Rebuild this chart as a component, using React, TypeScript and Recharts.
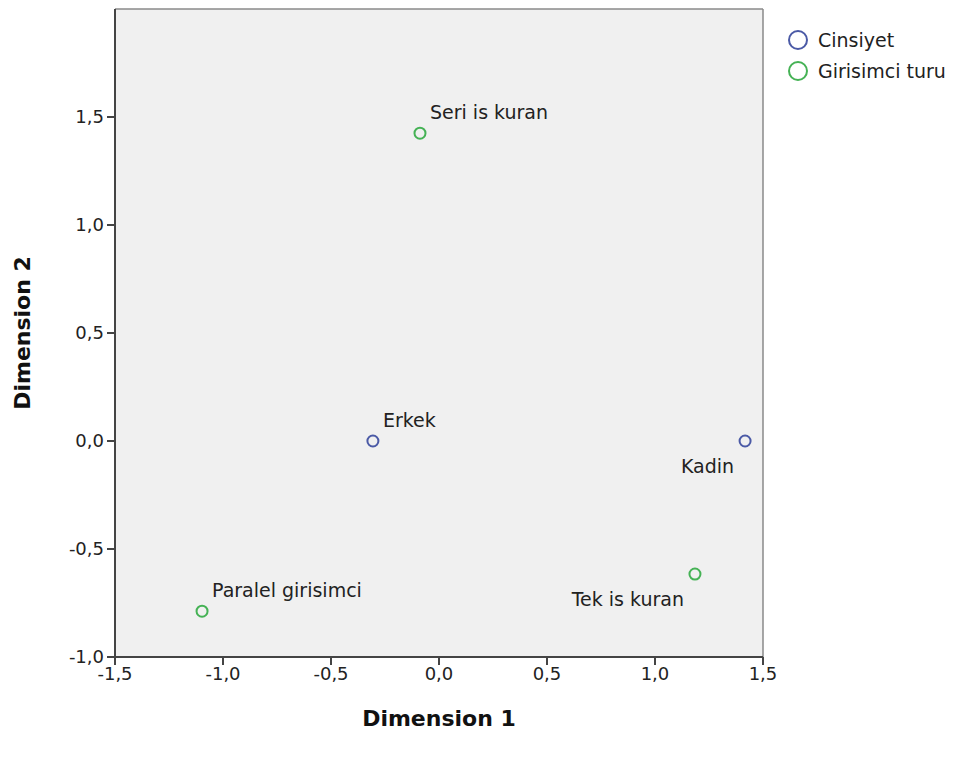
import {
  CartesianGrid,
  ReferenceLine,
  Scatter,
  ScatterChart,
  XAxis,
  YAxis,
} from "recharts";

const cinsiyetNames = ["Erkek", "Kadin"];
const cinsiyetDim1 = [-0.306, 1.417];
const cinsiyetDim2 = [0.0, 0.0];

const girisimciNames = ["Seri is kuran", "Paralel girisimci", "Tek is kuran"];
const girisimciDim1 = [-0.088, -1.097, 1.185];
const girisimciDim2 = [1.425, -0.788, -0.616];

const xTicks = [-1.5, -1.0, -0.5, 0.0, 0.5, 1.0, 1.5];
const yTicks = [-1.0, -0.5, 0.0, 0.5, 1.0, 1.5];

// which labels sit below-left of their point instead of above-right
const labelsBelow = ["Kadin", "Tek is kuran"];

const FONT = "'DejaVu Sans', Verdana, sans-serif";
const BLUE = "#4b5aa6";
const GREEN = "#45b255";

const cinsiyet = cinsiyetNames.map((name, i) => ({
  name,
  x: cinsiyetDim1[i],
  y: cinsiyetDim2[i],
}));
const girisimci = girisimciNames.map((name, i) => ({
  name,
  x: girisimciDim1[i],
  y: girisimciDim2[i],
}));

const fmt = (v: number) => v.toFixed(1).replace(".", ",");

function makeShape(color: string) {
  return (props: any) => {
    const { cx, cy, payload } = props;
    const below = labelsBelow.includes(payload.name);
    return (
      <g>
        <circle cx={cx} cy={cy} r={5.5} fill="none" stroke={color} strokeWidth={2} />
        <text
          x={below ? cx - 11 : cx + 10}
          y={below ? cy + 25 : cy - 21}
          textAnchor={below ? "end" : "start"}
          dominantBaseline="central"
          fontFamily={FONT}
          fontSize={19}
          fill="#222"
        >
          {payload.name}
        </text>
      </g>
    );
  };
}

function LegendBox() {
  const items = [
    { label: "Cinsiyet", color: BLUE },
    { label: "Girisimci turu", color: GREEN },
  ];
  return (
    <div
      style={{
        position: "absolute",
        left: 786,
        top: 24,
        fontFamily: FONT,
        fontSize: 19,
        color: "#222",
      }}
    >
      {items.map((it) => (
        <div key={it.label} style={{ display: "flex", alignItems: "center", height: 31 }}>
          <svg width={24} height={24} style={{ marginRight: 8 }}>
            <circle cx={12} cy={12} r={9} fill="none" stroke={it.color} strokeWidth={2} />
          </svg>
          <span>{it.label}</span>
        </div>
      ))}
    </div>
  );
}

export default function App() {
  return (
    <div style={{ position: "absolute", left: 0, top: 0, width: 953, height: 758, background: "#fff" }}>
      <ScatterChart
        width={953}
        height={758}
        margin={{ top: 9, right: 190, bottom: 0, left: 0 }}
      >
        <CartesianGrid fill="#f0f0f0" horizontal={false} vertical={false} />
        <XAxis
          type="number"
          dataKey="x"
          domain={[-1.5, 1.5]}
          ticks={xTicks}
          tickFormatter={fmt}
          allowDataOverflow
          height={101}
          tickSize={8}
          tickMargin={2}
          stroke="#444"
          strokeWidth={2}
          tick={{ fill: "#222", fontFamily: FONT, fontSize: 18 }}
          label={{
            content: (p: any) => {
              const vb = p.viewBox;
              return (
                <text
                  x={vb.x + vb.width / 2}
                  y={vb.y + 61}
                  textAnchor="middle"
                  dominantBaseline="central"
                  fontFamily={FONT}
                  fontWeight="bold"
                  fontSize={22}
                  fill="#111"
                >
                  Dimension 1
                </text>
              );
            },
          }}
        />
        <YAxis
          type="number"
          dataKey="y"
          domain={[-1, 2]}
          ticks={yTicks}
          tickFormatter={fmt}
          allowDataOverflow
          width={115}
          tickSize={8}
          tickMargin={3}
          stroke="#444"
          strokeWidth={2}
          tick={{ fill: "#222", fontFamily: FONT, fontSize: 18 }}
          label={{
            content: (p: any) => {
              const vb = p.viewBox;
              const cx = vb.x + 22;
              const cy = vb.y + vb.height / 2;
              return (
                <text
                  x={cx}
                  y={cy}
                  transform={`rotate(-90 ${cx} ${cy})`}
                  textAnchor="middle"
                  dominantBaseline="central"
                  fontFamily={FONT}
                  fontWeight="bold"
                  fontSize={22}
                  fill="#111"
                >
                  Dimension 2
                </text>
              );
            },
          }}
        />
        <ReferenceLine y={2} stroke="#8a8a8a" strokeWidth={1.5} />
        <ReferenceLine x={1.5} stroke="#8a8a8a" strokeWidth={1.5} />
        <Scatter
          name="Cinsiyet"
          data={cinsiyet}
          shape={makeShape(BLUE)}
          isAnimationActive={false}
        />
        <Scatter
          name="Girisimci turu"
          data={girisimci}
          shape={makeShape(GREEN)}
          isAnimationActive={false}
        />
      </ScatterChart>
      <LegendBox />
    </div>
  );
}
